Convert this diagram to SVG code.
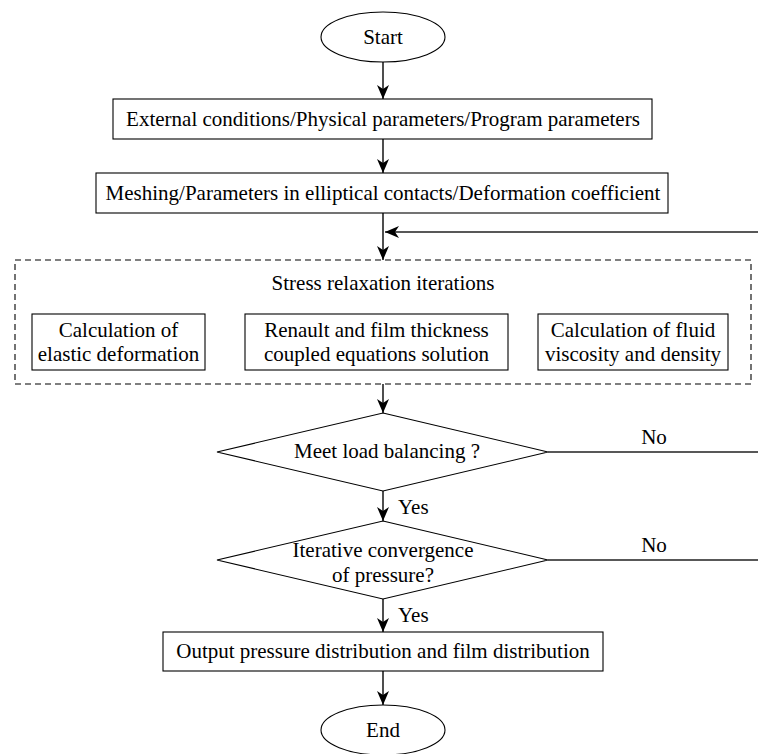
<svg xmlns="http://www.w3.org/2000/svg" width="758" height="754" viewBox="0 0 758 754" font-family="Liberation Serif, Times New Roman, serif">
<style>
  .shape { fill: #fff; stroke: #000; stroke-width: 1.1; }
  .dash { fill: none; stroke: #000; stroke-width: 1.1; stroke-dasharray: 6 4; }
  .t { font-family: 'Liberation Serif', 'Times New Roman', serif; font-size: 21px; fill: #000; text-anchor: middle; }
  .lbl { font-family: 'Liberation Serif', 'Times New Roman', serif; font-size: 21px; fill: #000; }
  .conn { fill: none; stroke: #222; stroke-width: 1.6; }
</style>
<defs>
  <marker id="ah" viewBox="0 0 14 12" refX="14" refY="6" markerWidth="14" markerHeight="12" markerUnits="userSpaceOnUse" orient="auto">
    <path d="M0,0 L14,6 L0,12 L4,6 z" fill="#000"/>
  </marker>
</defs>
<rect width="758" height="754" fill="#fff"/>

<g id="connectors">
  <path class="conn" d="M383,62 V99" marker-end="url(#ah)"/>
  <path class="conn" d="M383,139 V173" marker-end="url(#ah)"/>
  <path class="conn" d="M383,213 V260" marker-end="url(#ah)"/>
  <path class="conn" d="M383,384 V413" marker-end="url(#ah)"/>
  <path class="conn" d="M383,491 V521" marker-end="url(#ah)"/>
  <path class="conn" d="M383,599 V632" marker-end="url(#ah)"/>
  <path class="conn" d="M383,671 V705" marker-end="url(#ah)"/>
  <path class="conn" d="M548,452 H775 V232 H385" marker-end="url(#ah)"/>
  <path class="conn" d="M548,560 H775 V452"/>
  <text class="lbl" x="398" y="514">Yes</text>
  <text class="lbl" x="398" y="622">Yes</text>
  <text class="t" x="654" y="444">No</text>
  <text class="t" x="654" y="552">No</text>
</g>

<g id="start">
  <ellipse class="shape" cx="383" cy="37" rx="62" ry="25"/>
  <text class="t" x="383" y="44">Start</text>
</g>

<g id="external">
  <rect class="shape" x="113" y="99" width="539" height="40"/>
  <text class="t" x="383" y="126">External conditions/Physical parameters/Program parameters</text>
</g>

<g id="meshing">
  <rect class="shape" x="96" y="173" width="572" height="40"/>
  <text class="t" x="383" y="200">Meshing/Parameters in elliptical contacts/Deformation coefficient</text>
</g>

<g id="stress">
  <rect class="dash" x="15" y="260" width="736" height="124"/>
  <text class="t" x="383" y="290">Stress relaxation iterations</text>
</g>

<g id="elastic">
  <rect class="shape" x="32" y="314" width="173" height="56"/>
  <text class="t" x="118.5" y="337">Calculation of</text>
  <text class="t" x="118.5" y="361">elastic deformation</text>
</g>

<g id="renault">
  <rect class="shape" x="245" y="314" width="263" height="56"/>
  <text class="t" x="376.5" y="337">Renault and film thickness</text>
  <text class="t" x="376.5" y="361">coupled equations solution</text>
</g>

<g id="viscosity">
  <rect class="shape" x="538" y="314" width="190" height="56"/>
  <text class="t" x="633" y="337">Calculation of fluid</text>
  <text class="t" x="633" y="361">viscosity and density</text>
</g>

<g id="load">
  <polygon class="shape" points="383,413 548,452 383,491 217,452"/>
  <text class="t" x="387" y="458">Meet load balancing ?</text>
</g>

<g id="convergence">
  <polygon class="shape" points="383,521 548,560 383,599 217,560"/>
  <text class="t" x="383" y="557">Iterative convergence</text>
  <text class="t" x="383" y="582">of pressure?</text>
</g>

<g id="output">
  <rect class="shape" x="163" y="632" width="440" height="39"/>
  <text class="t" x="383" y="658">Output pressure distribution and film distribution</text>
</g>

<g id="end">
  <ellipse class="shape" cx="383" cy="730" rx="62" ry="25"/>
  <text class="t" x="383" y="737">End</text>
</g>
</svg>
